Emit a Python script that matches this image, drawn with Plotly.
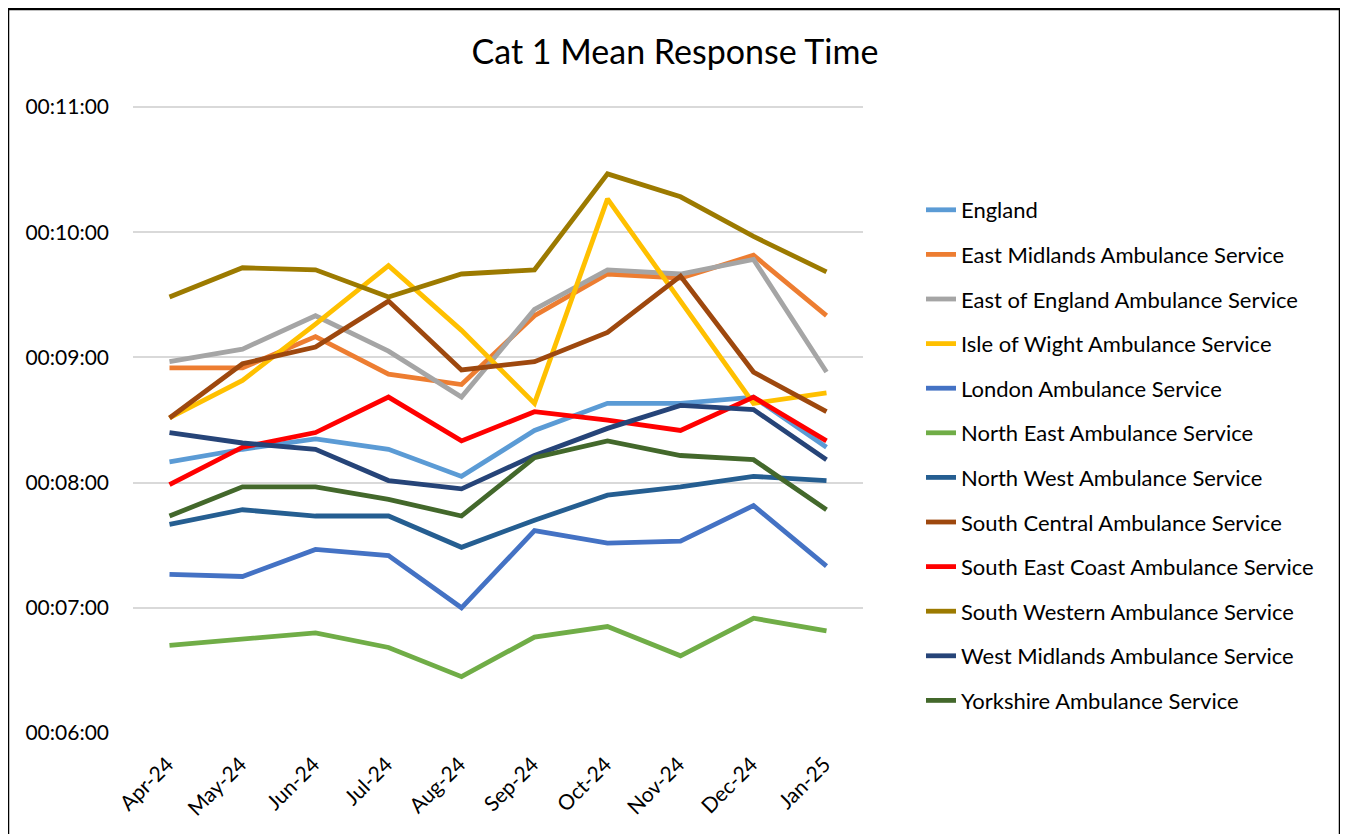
import plotly.graph_objects as go

months = ["Apr-24", "May-24", "Jun-24", "Jul-24", "Aug-24", "Sep-24",
          "Oct-24", "Nov-24", "Dec-24", "Jan-25"]

# mean response times in seconds
england = [490, 496, 501, 496, 483, 505, 518, 518, 521, 497]
east_midlands = [535, 535, 550, 532, 527, 560, 580, 578, 589, 560]
east_of_england = [538, 544, 560, 543, 521, 563, 582, 580, 587, 533]
isle_of_wight = [511, 529, 556, 584, 553, 518, 616, 567, 518, 523]
london = [436, 435, 448, 445, 420, 457, 451, 452, 469, 440]
north_east = [402, 405, 408, 401, 387, 406, 411, 397, 415, 409]
north_west = [460, 467, 464, 464, 449, 462, 474, 478, 483, 481]
south_central = [511, 537, 545, 567, 534, 538, 552, 579, 533, 514]
south_east_coast = [479, 497, 504, 521, 500, 514, 510, 505, 521, 500]
south_western = [569, 583, 582, 569, 580, 582, 628, 617, 598, 581]
west_midlands = [504, 499, 496, 481, 477, 493, 506, 517, 515, 491]
yorkshire = [464, 478, 478, 472, 464, 492, 500, 493, 491, 467]

series_names = [
    "England", "East Midlands Ambulance Service", "East of England Ambulance Service",
    "Isle of Wight Ambulance Service", "London Ambulance Service",
    "North East Ambulance Service", "North West Ambulance Service",
    "South Central Ambulance Service", "South East Coast Ambulance Service",
    "South Western Ambulance Service", "West Midlands Ambulance Service",
    "Yorkshire Ambulance Service",
]
series_values = [england, east_midlands, east_of_england, isle_of_wight, london,
                 north_east, north_west, south_central, south_east_coast,
                 south_western, west_midlands, yorkshire]
colors = ["#5B9BD5", "#ED7D31", "#A5A5A5", "#FFC000", "#4472C4", "#70AD47",
          "#255E91", "#9E480E", "#FF0000", "#9C7A00", "#264478", "#43682B"]

tick_vals = [360, 420, 480, 540, 600, 660]
tick_text = ["00:06:00", "00:07:00", "00:08:00", "00:09:00", "00:10:00", "00:11:00"]


def fmt(s):
    return "00:%02d:%02d" % (s // 60, s % 60)


FONT = "Lato, 'Open Sans', sans-serif"

fig = go.Figure()
for name, vals, col in zip(series_names, series_values, colors):
    fig.add_trace(go.Scatter(
        x=months, y=vals, name=name, mode="lines",
        line=dict(color=col, width=4.8),
        legendgroup=name,
        customdata=[fmt(v) for v in vals],
        hovertemplate="%{x}: %{customdata}<extra>" + name + "</extra>",
    ))

OFF = 8  # page body margin
W, H = 1348 - OFF, 834 - OFF
# plot area in screen pixels: x 133..863, y 105..733 (range 360..661 s)
L = 133 - OFF
T = 105 - OFF
pw, ph = 730, 628
R = W - L - pw
B = H - T - ph

def px_x(p):
    return (p - 133) / pw

def px_y(p):
    return (733 - p) / ph

fig.update_layout(
    width=W, height=H,
    margin=dict(l=L, r=R, t=T, b=B),
    paper_bgcolor="white", plot_bgcolor="white",
    font=dict(family=FONT, color="#000000", size=18),
    title=dict(text="Cat 1 Mean Response Time", x=0.5 - 3 / W, xanchor="center",
               y=1 - (52 - OFF) / H, yanchor="middle",
               font=dict(family=FONT, size=34, color="#000000")),
    showlegend=True,
    legend=dict(x=px_x(921), xanchor="left", y=px_y(189), yanchor="top",
                font=dict(family=FONT, size=22, color="#000000"),
                tracegroupgap=13, bgcolor="rgba(0,0,0,0)"),
    xaxis=dict(type="category", showgrid=False, showline=False, ticks="",
               tickangle=-45, tickfont=dict(family=FONT, size=21),
               ticklabelshift=-2, ticklabelstandoff=14,
               range=[-0.5, len(months) - 0.5]),
    yaxis=dict(range=[360, 661], tickvals=tick_vals, ticktext=tick_text,
               showgrid=True, gridcolor="#D9D9D9", gridwidth=1.5,
               zeroline=False, showline=False, ticks="",
               ticklabelstandoff=23,
               tickfont=dict(family=FONT, size=21)),
    shapes=[dict(type="rect", xref="paper", yref="paper",
                 x0=px_x(8), x1=px_x(1340), y0=px_y(850), y1=px_y(9),
                 line=dict(color="#000000", width=2.5), layer="above")],
)

fig.write_html("out.html")
